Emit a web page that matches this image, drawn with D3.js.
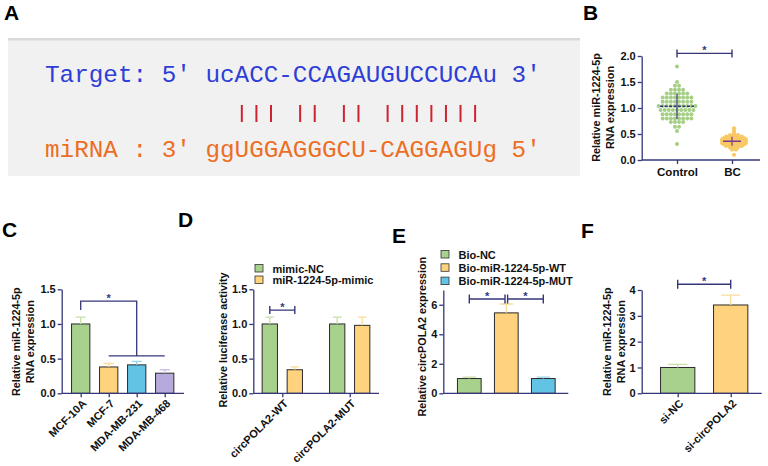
<!DOCTYPE html>
<html lang="en">
<head>
<meta charset="UTF-8">
<title>miR-1224-5p panels</title>
<script src="https://d3js.org/d3.v7.min.js"></script>
<style>
  body { margin: 0; background: #fff; }
  svg text { font-family: "Liberation Sans", Arial, sans-serif; }
  .tick text { font-size: 11px; font-weight: bold; fill: #111; }
  .ttl { font-size: 10.8px; font-weight: bold; fill: #111; }
  .lbl { font-size: 21px; font-weight: bold; fill: #000; }
  .leg { font-size: 11px; font-weight: bold; fill: #111; }
  .mono { font-family: "Liberation Mono", "Courier New", monospace; font-size: 24.3px; }
</style>
</head>
<body>
<svg width="768" height="466"></svg>
<script>
    // ---- data ----
    const targetSeq = "Target: 5' ucACC-CCAGAUGUCCUCAu 3'";
    const mirnaSeq = "miRNA : 3' ggUGGAGGGCU-CAGGAGUg 5'";
    const pairing = "             ||| || || |||||||";

    const bCategories = ["Control", "BC"];
    const bControl = [1.80, 1.50, 1.43, 1.43,
        1.35, 1.35, 1.35, 1.35,
        1.28, 1.28, 1.28, 1.28, 1.28, 1.28,
        1.20, 1.20, 1.20, 1.20, 1.20, 1.20, 1.20, 1.20,
        1.12, 1.12, 1.12, 1.12, 1.12, 1.12, 1.12, 1.12,
        1.04, 1.04, 1.04, 1.04, 1.04, 1.04, 1.04, 1.04, 1.04, 1.04,
        0.96, 0.96, 0.96, 0.96, 0.96, 0.96, 0.96, 0.96, 0.96,
        0.88, 0.88, 0.88, 0.88, 0.88, 0.88, 0.88, 0.88,
        0.80, 0.80, 0.80, 0.80, 0.80, 0.80, 0.80, 0.80,
        0.73, 0.73, 0.73, 0.73, 0.64, 0.64, 0.56, 0.31];
    const bBC = [0.61, 0.56, 0.52, 0.48, 0.48, 0.48,
        0.45, 0.45, 0.45, 0.45, 0.45,
        0.42, 0.42, 0.42, 0.42, 0.42, 0.42,
        0.40, 0.40, 0.40, 0.40, 0.40, 0.40, 0.40,
        0.37, 0.37, 0.37, 0.37, 0.37, 0.37, 0.37,
        0.35, 0.35, 0.35, 0.35, 0.35, 0.35, 0.35,
        0.32, 0.32, 0.32, 0.32, 0.32, 0.32, 0.32,
        0.30, 0.30, 0.30, 0.30, 0.30, 0.30,
        0.27, 0.27, 0.27, 0.27, 0.27,
        0.24, 0.24, 0.24, 0.20, 0.20, 0.10];

    const cCategories = ["MCF-10A", "MCF-7", "MDA-MB-231", "MDA-MB-468"];
    const cValues = [1.0, 0.38, 0.41, 0.29];
    const cErrors = [0.1, 0.05, 0.05, 0.05];

    const dGroups = ["circPOLA2-WT", "circPOLA2-MUT"];
    const dSeries = ["mimic-NC", "miR-1224-5p-mimic"];
    const dNC = [1.0, 1.0];
    const dNCErr = [0.1, 0.1];
    const dMimic = [0.34, 0.98];
    const dMimicErr = [0.04, 0.12];

    const eCategories = ["Bio-NC", "Bio-miR-1224-5p-WT", "Bio-miR-1224-5p-MUT"];
    const eValues = [1.0, 5.45, 1.0];
    const eErrors = [0.1, 0.6, 0.1];

    const fCategories = ["si-NC", "si-circPOLA2"];
    const fValues = [1.0, 3.42];
    const fErrors = [0.12, 0.38];

    // ---- styles ----
    const navy = "#35367a";
    const green = "#a9d18e", yellow = "#ffd27e", blue = "#62c3e4", lilac = "#b5aadb";
    const errCol = { [green]: "#c6dfa6", [yellow]: "#f8dc9c", [blue]: "#98d5ea", [lilac]: "#cbc3e8" };

    const svg = d3.select("svg");

    // panel letters
    const letters = [["A", 4, 20], ["B", 583, 20], ["C", 2, 237], ["D", 178, 227], ["E", 392, 243], ["F", 581, 238]];
    svg.selectAll(".lbl").data(letters).join("text")
        .attr("class", "lbl").attr("x", d => d[1]).attr("y", d => d[2]).text(d => d[0]);

    // ---- helpers ----
    function yAxis(g, y, x0, ticks, fmt) {
        g.append("g").attr("transform", `translate(${x0},0)`)
            .call(d3.axisLeft(y).tickValues(ticks).tickFormat(fmt).tickSize(4).tickPadding(2).tickSizeOuter(0))
            .call(s => s.selectAll("path, line").attr("stroke", navy).attr("stroke-width", 1.3));
    }

    function xAxis(g, x, y0, x1, x2, opts) {
        const ax = g.append("g").attr("transform", `translate(0,${y0})`)
            .call(d3.axisBottom(x).tickSize(opts.noTicks ? 0 : 4).tickPadding(opts.pad || 3).tickSizeOuter(0));
        ax.select(".domain").remove();
        ax.selectAll("line").attr("stroke", navy).attr("stroke-width", 1.3);
        ax.append("line").attr("x1", x1).attr("x2", x2).attr("stroke", navy).attr("stroke-width", 1.3);
        if (opts.noTicks) ax.selectAll(".tick text").remove();
        if (opts.rotate) {
            ax.selectAll(".tick text")
                .attr("x", 0).attr("y", 0).attr("dy", "0.75em")
                .attr("text-anchor", "end")
                .attr("transform", "translate(0,5) rotate(-45)");
        }
        if (opts.size) ax.selectAll(".tick text").style("font-size", opts.size + "px");
    }

    function yTitle(g, lines, xs, cy) {
        lines.forEach((t, i) => {
            g.append("text").attr("class", "ttl")
                .attr("transform", `translate(${xs[i]},${cy}) rotate(-90)`)
                .attr("text-anchor", "middle").attr("dy", "0.35em").text(t);
        });
    }

    function drawBars(g, data, y) {
        const b = g.selectAll(null).data(data).join("g");
        b.append("rect")
            .attr("x", d => d.cx - d.w / 2).attr("y", d => y(d.v))
            .attr("width", d => d.w).attr("height", d => y(0) - y(d.v))
            .attr("fill", d => d.fill).attr("stroke", "#2a2a2a").attr("stroke-width", 1);
        b.append("path")
            .attr("d", d => `M${d.cx},${y(d.v)}V${y(d.v + d.e)}M${d.cx - d.w * 0.28},${y(d.v + d.e)}H${d.cx + d.w * 0.28}`)
            .attr("stroke", d => errCol[d.fill]).attr("stroke-width", 1.3).attr("fill", "none");
    }

    function bracket(g, x1, x2, y, h) {
        g.append("path")
            .attr("d", `M${x1},${y - h}V${y + h}M${x1},${y}H${x2}M${x2},${y - h}V${y + h}`)
            .attr("stroke", navy).attr("stroke-width", 1.4).attr("fill", "none");
        star(g, (x1 + x2) / 2, y);
    }

    function star(g, x, y) {
        g.append("text").attr("x", x).attr("y", y + 1).attr("text-anchor", "middle")
            .style("font-size", "11px").style("font-weight", "bold").attr("fill", navy).text("*");
    }

    function legend(g, items, x, y0, step, sq) {
        const it = g.selectAll(null).data(items).join("g")
            .attr("transform", (d, i) => `translate(${x},${y0 + i * step})`);
        it.append("rect").attr("x", 0).attr("y", -sq).attr("width", sq).attr("height", sq - 0.5)
            .attr("fill", d => d[1]).attr("stroke", "#333").attr("stroke-width", 0.8);
        it.append("text").attr("class", "leg").attr("x", sq + 9.5).attr("y", 0).text(d => d[0]);
    }

    // ---- A: sequence alignment ----
    const gA = svg.append("g");
    const cw = 24.3 * 0.6, ax0 = 45;
    gA.append("rect").attr("x", 8).attr("y", 39).attr("width", 572).attr("height", 137).attr("fill", "#f1f1f1");
    gA.append("rect").attr("x", 8).attr("y", 38).attr("width", 572).attr("height", 2.5).attr("fill", "#d9d9d9");
    gA.append("text").attr("class", "mono").attr("x", ax0).attr("y", 82).attr("fill", "#2e3ed6").attr("xml:space", "preserve").text(targetSeq);
    gA.append("text").attr("class", "mono").attr("x", ax0).attr("y", 157).attr("fill", "#ec6e24").attr("xml:space", "preserve").text(mirnaSeq);
    const pairIdx = pairing.split("").map((c, i) => c === "|" ? i : -1).filter(i => i >= 0);
    gA.selectAll(".pair").data(pairIdx).join("line").attr("class", "pair")
        .attr("x1", i => ax0 + (i + 0.5) * cw).attr("x2", i => ax0 + (i + 0.5) * cw)
        .attr("y1", 105).attr("y2", 122).attr("stroke", "#cf2230").attr("stroke-width", 2);

    // ---- B: scatter ----
    const gB = svg.append("g");
    const yB = d3.scaleLinear().domain([0, 2]).range([160, 56]);
    const xB = d3.scalePoint().domain(bCategories).range([677, 732]);
    function swarm(vals, cx, step) {
        const pts = [];
        d3.group(vals, v => v).forEach((arr, v) => arr.forEach((_, k) => pts.push({ v, x: cx + (k - (arr.length - 1) / 2) * step })));
        return pts;
    }
    gB.selectAll(".dc").data(swarm(bControl, xB("Control"), 4.1)).join("circle").attr("class", "dc")
        .attr("cx", d => d.x).attr("cy", d => yB(d.v)).attr("r", 2).attr("fill", "#a6cf86");
    gB.selectAll(".db").data(swarm(bBC, xB("BC") + 2, 3.9)).join("circle").attr("class", "db")
        .attr("cx", d => d.x).attr("cy", d => yB(d.v)).attr("r", 2.1).attr("fill", "#f8c964");
    [[bControl, "Control", navy, 17], [bBC, "BC", "#7b3a8c", 9]].forEach(([vals, c, col, hw]) => {
        const m = d3.mean(vals), sd = d3.deviation(vals), cx = xB(c);
        gB.append("line").attr("x1", cx).attr("x2", cx).attr("y1", yB(m + sd)).attr("y2", yB(m - sd))
            .attr("stroke", col).attr("stroke-width", 1.2);
        gB.append("line").attr("x1", cx - hw).attr("x2", cx + hw).attr("y1", yB(m)).attr("y2", yB(m))
            .attr("stroke", col).attr("stroke-width", 1.5).attr("stroke-dasharray", c === "Control" ? "3,1.5" : null);
    });
    yAxis(gB, yB, 641.7, [0, 0.5, 1, 1.5, 2], d3.format(".1f"));
    xAxis(gB, xB, 160, 641.7, 760, { pad: 4, size: 11.5 });
    yTitle(gB, ["Relative miR-1224-5p", "RNA expression"], [596, 610.7], 107.5);
    bracket(gB, xB("Control"), xB("BC"), yB(2.05), 4);

    // ---- C: cell lines ----
    const gC = svg.append("g");
    const yC = d3.scaleLinear().domain([0, 1.5]).range([393.3, 289.3]);
    const xC = d3.scalePoint().domain(cCategories).range([80.7, 164.7]);
    const cFills = [green, yellow, blue, lilac];
    drawBars(gC, cCategories.map((c, i) => ({ cx: xC(c), w: 18.3, v: cValues[i], e: cErrors[i], fill: cFills[i] })), yC);
    yAxis(gC, yC, 61.7, [0, 0.5, 1, 1.5], d3.format(".1f"));
    xAxis(gC, xC, 393.3, 61.7, 184, { rotate: true });
    yTitle(gC, ["Relative miR-1224-5p", "RNA expression"], [16.7, 30.7], 341.7);
    gC.append("path")
        .attr("d", `M${xC(cCategories[0])},${yC(1.2)}V${yC(1.33)}H${xC(cCategories[2])}V${yC(0.54)}M${xC(cCategories[1])},${yC(0.54)}H${xC(cCategories[3])}`)
        .attr("stroke", navy).attr("stroke-width", 1.3).attr("fill", "none");
    star(gC, (xC(cCategories[0]) + xC(cCategories[2])) / 2, yC(1.33));

    // ---- D: luciferase ----
    const gD = svg.append("g");
    const yD = d3.scaleLinear().domain([0, 1.5]).range([393.3, 289.3]);
    const xD0 = d3.scalePoint().domain(dGroups).range([282.3, 349.7]);
    const xD1 = d3.scaleBand().domain(dSeries).range([-25, 25]);
    const dCx = (g, s) => xD0(g) + xD1(s) + xD1.bandwidth() / 2;
    const dData = [];
    dGroups.forEach((g, i) => {
        dData.push({ cx: dCx(g, dSeries[0]), w: 15.3, v: dNC[i], e: dNCErr[i], fill: green });
        dData.push({ cx: dCx(g, dSeries[1]), w: 15.3, v: dMimic[i], e: dMimicErr[i], fill: yellow });
    });
    drawBars(gD, dData, yD);
    yAxis(gD, yD, 253.3, [0, 0.5, 1, 1.5], d3.format(".1f"));
    xAxis(gD, xD0, 393.3, 253.3, 379, { rotate: true });
    yTitle(gD, ["Relative luciferase activity"], [223.3], 340);
    bracket(gD, dCx(dGroups[0], dSeries[0]), dCx(dGroups[0], dSeries[1]), yD(1.2), 4);
    legend(gD, [[dSeries[0], green], [dSeries[1], yellow]], 255, 272.5, 11.5, 8);

    // ---- E: pull-down ----
    const gE = svg.append("g");
    const yE = d3.scaleLinear().domain([0, 7]).range([393.3, 290]);
    const xE = d3.scalePoint().domain(eCategories).range([469.3, 543.3]);
    const eFills = [green, yellow, blue];
    drawBars(gE, eCategories.map((c, i) => ({ cx: xE(c), w: 23.7, v: eValues[i], e: eErrors[i], fill: eFills[i] })), yE);
    yAxis(gE, yE, 443.3, [0, 2, 4, 6], d3.format("d"));
    xAxis(gE, xE, 393.3, 443.3, 568.3, { noTicks: true });
    yTitle(gE, ["Relative circPOLA2 expression"], [422.7], 336.7);
    bracket(gE, xE(eCategories[0]), xE(eCategories[1]) - 1.3, yE(6.39), 4.5);
    bracket(gE, xE(eCategories[1]) + 1.3, xE(eCategories[2]), yE(6.39), 4.5);
    legend(gE, eCategories.map((c, i) => [c, eFills[i]]), 441, 258.5, 13.3, 8);

    // ---- F: knockdown ----
    const gF = svg.append("g");
    const yF = d3.scaleLinear().domain([0, 4]).range([393.3, 290]);
    const xF = d3.scalePoint().domain(fCategories).range([677.7, 730.7]);
    drawBars(gF, fCategories.map((c, i) => ({ cx: xF(c), w: 34.3, v: fValues[i], e: fErrors[i], fill: [green, yellow][i] })), yF);
    yAxis(gF, yF, 641.7, [0, 1, 2, 3, 4], d3.format("d"));
    xAxis(gF, xF, 393.3, 641.7, 761.7, { rotate: true });
    yTitle(gF, ["Relative miR-1224-5p", "RNA expression"], [607.3, 621.7], 341.7);
    bracket(gF, xF(fCategories[0]), xF(fCategories[1]), yF(4.22), 4.5);
</script>
</body>
</html>
